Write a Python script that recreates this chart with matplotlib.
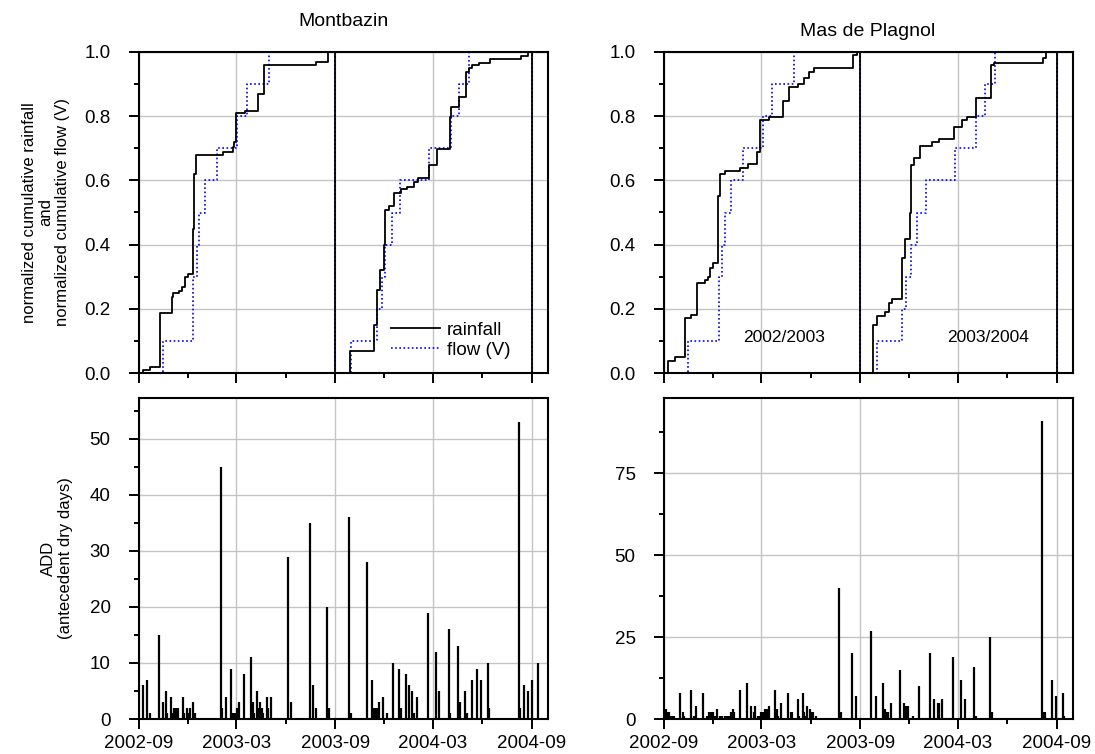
import matplotlib
matplotlib.use("Agg")
import matplotlib.pyplot as plt
import matplotlib.dates as mdates
from matplotlib.ticker import MultipleLocator, FormatStrFormatter
import numpy as np

plt.rcParams["font.family"] = ["Liberation Sans", "DejaVu Sans"]

START = np.datetime64("2002-09-01")

# ── normalized cumulative curves (day since 2002-09-01, value) ───────────────
mb_rain_day = [0, 7, 20, 39, 61, 63, 75, 80, 85, 92, 100, 101, 103, 106, 157, 175, 177, 181,
               198, 221, 233, 330, 351, 365,
               365, 393, 434, 438, 443, 449, 455, 458, 465, 474, 488, 499, 511, 519, 539, 554,
               578, 581, 595, 608, 614, 620, 633, 654, 710, 723, 731, 731]
mb_rain_val = [0.0, 0.01, 0.018, 0.188, 0.238, 0.248, 0.256, 0.269, 0.298, 0.308, 0.311, 0.45,
               0.62, 0.679, 0.689, 0.703, 0.721, 0.809, 0.817, 0.869, 0.959, 0.968, 1.0, 1.0,
               0.0, 0.07, 0.07, 0.15, 0.258, 0.321, 0.399, 0.508, 0.52, 0.56, 0.572, 0.58, 0.596,
               0.609, 0.648, 0.698, 0.799, 0.83, 0.859, 0.939, 0.949, 0.959, 0.967, 0.978, 0.988,
               1.0, 1.0, 0.0]
mb_flow_day = [0, 44, 100, 101, 107, 112, 123, 145, 183, 201, 241, 365,
               365, 394, 443, 452, 458, 471, 486, 539, 580, 595, 614, 731, 731]
mb_flow_val = [0.0, 0.1, 0.2, 0.3, 0.4, 0.5, 0.6, 0.7, 0.8, 0.9, 1.0, 1.0,
               0.0, 0.1, 0.2, 0.3, 0.4, 0.5, 0.6, 0.7, 0.8, 0.9, 1.0, 1.0, 0.0]

mp_rain_day = [0, 8, 20, 39, 51, 61, 76, 82, 86, 92, 100, 104, 114, 142, 157, 173, 179, 196,
               221, 232, 250, 261, 269, 280, 351, 359, 365,
               365, 388, 396, 412, 418, 424, 443, 449, 458, 460, 465, 476, 499, 511, 539, 555,
               563, 580, 608, 614, 706, 711, 731, 731]
mp_rain_val = [0.0, 0.038, 0.05, 0.17, 0.181, 0.279, 0.29, 0.3, 0.326, 0.342, 0.55, 0.62, 0.629,
               0.64, 0.65, 0.689, 0.788, 0.797, 0.848, 0.89, 0.9, 0.918, 0.939, 0.949, 0.991,
               1.0, 1.0,
               0.0, 0.15, 0.179, 0.191, 0.217, 0.229, 0.357, 0.417, 0.497, 0.648, 0.669, 0.707,
               0.719, 0.729, 0.767, 0.788, 0.799, 0.856, 0.959, 0.967, 0.98, 1.0, 1.0, 0.0]
mp_flow_day = [0, 44, 102, 103, 107, 114, 124, 147, 184, 201, 241, 365,
               365, 396, 443, 451, 460, 470, 488, 541, 580, 598, 616, 731, 731]
mp_flow_val = [0.0, 0.1, 0.2, 0.3, 0.4, 0.5, 0.6, 0.7, 0.8, 0.9, 1.0, 1.0,
               0.0, 0.1, 0.2, 0.3, 0.4, 0.5, 0.6, 0.7, 0.8, 0.9, 1.0, 1.0, 0.0]

# ── antecedent dry days per event ────────────────────────────────────────────
mb_add_day = [7, 15, 20, 37, 44, 50, 53, 59, 62, 66, 69, 72, 81, 83, 89, 92, 95, 100, 104,
              152, 154, 162, 171, 174, 179, 182, 186, 195, 208, 212, 214, 219, 222, 226, 229,
              231, 238, 240, 246, 277, 283, 318, 324, 329, 350, 353, 391, 394, 424, 433, 437,
              440, 442, 446, 454, 462, 473, 484, 487, 496, 503, 508, 512, 517, 538, 552, 559,
              576, 579, 593, 596, 598, 606, 610, 619, 628, 637, 649, 652, 707, 709, 716, 723,
              731, 743]
mb_add = [6, 7, 1, 15, 3, 5, 1, 4, 1, 2, 2, 2, 4, 1, 2, 1, 2, 3, 1,
          45, 2, 4, 9, 1, 1, 2, 3, 8, 11, 3, 1, 5, 2, 3, 2,
          1, 4, 2, 4, 29, 3, 35, 6, 2, 20, 2, 36, 1, 28, 7, 2,
          2, 2, 3, 4, 1, 10, 9, 2, 8, 6, 5, 1, 4, 19, 12, 5,
          16, 1, 13, 1, 3, 5, 1, 7, 9, 7, 10, 2, 53, 2, 6, 5,
          7, 10]

mp_add_day = [4, 7, 10, 13, 16, 19, 30, 35, 38, 51, 55, 60, 73, 80, 84, 88, 92, 95, 99, 105,
              108, 113, 117, 121, 125, 128, 131, 141, 154, 162, 167, 170, 174, 177, 180, 184,
              187, 192, 196, 206, 211, 213, 218, 231, 236, 239, 249, 252, 259, 261, 264, 267,
              271, 275, 278, 283, 326, 330, 350, 358, 386, 394, 408, 411, 414, 417, 422, 440,
              447, 450, 454, 463, 474, 495, 503, 509, 512, 517, 537, 552, 560, 577, 580, 606,
              610, 703, 706, 709, 722, 730, 742, 744]
mp_add = [3, 2, 2, 1, 1, 1, 8, 2, 1, 9, 1, 4, 8, 1, 2, 2, 2, 1, 3, 1,
          1, 1, 1, 1, 2, 3, 2, 9, 11, 4, 2, 4, 1, 1, 2, 2,
          3, 3, 4, 9, 3, 1, 5, 8, 2, 2, 6, 1, 8, 2, 1, 4,
          3, 2, 2, 1, 40, 2, 20, 7, 27, 7, 11, 3, 2, 2, 5, 15,
          5, 4, 4, 1, 10, 20, 6, 5, 5, 6, 19, 12, 6, 16, 1, 25,
          2, 91, 2, 2, 12, 7, 8, 1]

SITES = ["Montbazin", "Mas de Plagnol"]
SEASONS = ["2002/2003", "2003/2004"]


def to_dates(days):
    return START + np.array(days).astype("timedelta64[D]")


GRID = "#c4c4c4"
TICK_FS = 13.5
XMIN = np.datetime64("2002-09-01")
XMAX = np.datetime64("2004-10-01")

fig = plt.figure(figsize=(10.95, 7.54), dpi=100)
W, H = 409 / 1095, 321 / 754
lefts = [139 / 1095, 664 / 1095]
ax_top = [fig.add_axes([l, 1 - 373 / 754, W, H]) for l in lefts]
ax_bot = [fig.add_axes([l, 1 - 719 / 754, W, H]) for l in lefts]


def style(ax, labels):
    ax.set_xlim(XMIN, XMAX)
    ax.xaxis.set_major_locator(mdates.MonthLocator(bymonth=[3, 9]))
    ax.xaxis.set_minor_locator(mdates.MonthLocator(bymonth=[6, 12]))
    ax.xaxis.set_major_formatter(mdates.DateFormatter("%Y-%m"))
    ax.grid(True, which="major", color=GRID, linewidth=1.0)
    ax.set_axisbelow(True)
    ax.tick_params(which="major", direction="out", length=7.5, width=1.4,
                   labelsize=TICK_FS)
    ax.tick_params(which="minor", direction="out", length=3.8, width=1.4)
    ax.tick_params(axis="x", which="major", pad=4)
    ax.tick_params(axis="y", which="major", pad=13)
    if not labels:
        ax.tick_params(axis="x", labelbottom=False)
    for s in ax.spines.values():
        s.set_linewidth(1.5)


rain = [(mb_rain_day, mb_rain_val), (mp_rain_day, mp_rain_val)]
flow = [(mb_flow_day, mb_flow_val), (mp_flow_day, mp_flow_val)]
adds = [(mb_add_day, mb_add), (mp_add_day, mp_add)]

for i in range(2):
    ax = ax_top[i]
    ax.plot(to_dates(rain[i][0]), rain[i][1], drawstyle="steps-post",
            color="black", linewidth=1.3, label="rainfall", zorder=3)
    ax.plot(to_dates(flow[i][0]), flow[i][1], drawstyle="steps-post",
            color="#0000ff", linewidth=1.2, linestyle=(0, (1, 1.5)),
            label="flow (V)", zorder=2)
    ax.set_ylim(0, 1.0)
    ax.yaxis.set_major_locator(MultipleLocator(0.2))
    ax.yaxis.set_minor_locator(MultipleLocator(0.1))
    ax.yaxis.set_major_formatter(FormatStrFormatter("%.1f"))
    style(ax, labels=False)

    ax = ax_bot[i]
    ax.vlines(to_dates(adds[i][0]), 0, adds[i][1], color="black",
              linewidth=1.6, zorder=3)
    style(ax, labels=True)

ax_bot[0].set_ylim(0, 57.3)
ax_bot[0].yaxis.set_major_locator(MultipleLocator(10))
ax_bot[0].yaxis.set_minor_locator(MultipleLocator(5))
ax_bot[1].set_ylim(0, 98)
ax_bot[1].yaxis.set_major_locator(MultipleLocator(25))
ax_bot[1].yaxis.set_minor_locator(MultipleLocator(12.5))

leg = ax_top[0].legend(loc="lower right", bbox_to_anchor=(0.935, 0.01), frameon=False,
                       fontsize=13.5, handlelength=2.6, handletextpad=0.35,
                       labelspacing=0.15, borderaxespad=0.2)

ax_top[1].text(to_dates([223])[0], 0.11, SEASONS[0], ha="center", va="center", fontsize=12.5)
ax_top[1].text(to_dates([603])[0], 0.11, SEASONS[1], ha="center", va="center", fontsize=12.5)

ax_top[0].set_ylabel("normalized cumulative rainfall\nand\nnormalized cumulative flow (V)",
                     fontsize=12, linespacing=1.15, labelpad=10)
ax_bot[0].set_ylabel("ADD\n(antecedent dry days)", fontsize=12, linespacing=1.15, labelpad=12)

fig.text(343 / 1095, 1 - 22 / 754, SITES[0], ha="center", va="center", fontsize=14)
fig.text(868 / 1095, 1 - 32 / 754, SITES[1], ha="center", va="center", fontsize=14)

fig.savefig("out.png", dpi=100)
